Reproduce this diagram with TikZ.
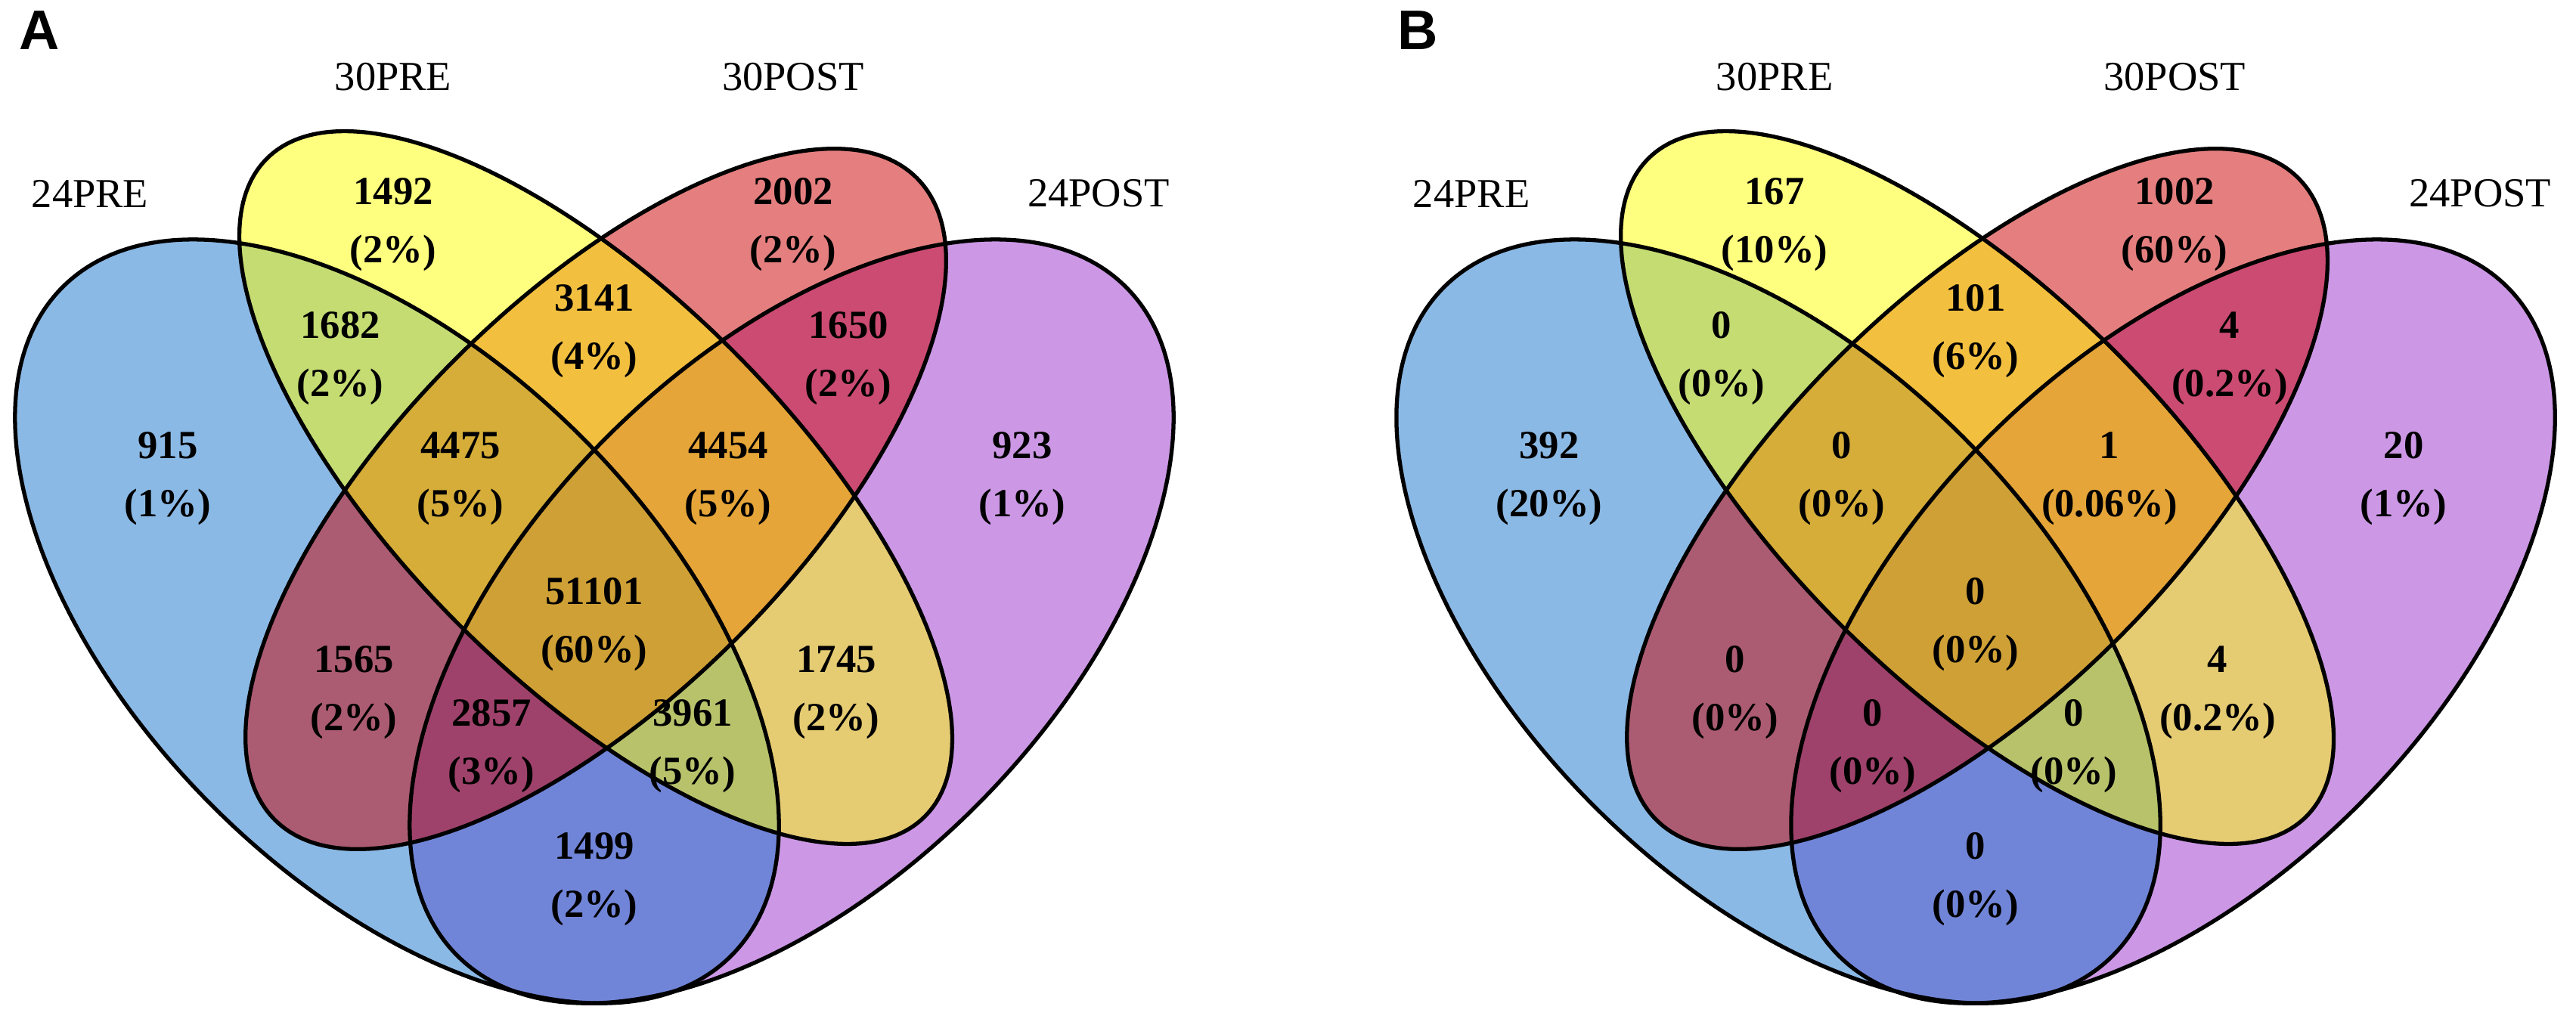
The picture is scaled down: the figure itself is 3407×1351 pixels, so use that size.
\documentclass[tikz,border=0pt]{standalone}
\usepackage{fontspec}
\setmainfont{Liberation Serif}
\newfontfamily\panelfont{Liberation Sans}
\definecolor{cBlue}{RGB}{24,116,205}
\definecolor{cYellow}{RGB}{255,255,0}
\definecolor{cRed}{RGB}{205,0,0}
\definecolor{cPurple}{RGB}{154,50,205}
\newcommand\regionlabel[4]{\node[cnt] (#1) at (#2) {#3\\#4};}
\newcommand\vennsets{%
  \fill[setfill=cPurple] [shift={(1047,822)}, rotate=45] (0,0) ellipse [x radius=6.25cm, y radius=3.45cm];
  \fill[setfill=cBlue]   [shift={(525,822)}, rotate=-45] (0,0) ellipse [x radius=6.25cm, y radius=3.45cm];
  \fill[setfill=cRed]    [shift={(788,660)}, rotate=45] (0,0) ellipse [x radius=6.00cm, y radius=2.62cm];
  \fill[setfill=cYellow] [shift={(788,645)}, rotate=-45] (0,0) ellipse [x radius=6.15cm, y radius=2.56cm];
  \draw[setline] [shift={(1047,822)}, rotate=45] (0,0) ellipse [x radius=6.25cm, y radius=3.45cm];
  \draw[setline] [shift={(525,822)}, rotate=-45] (0,0) ellipse [x radius=6.25cm, y radius=3.45cm];
  \draw[setline] [shift={(788,660)}, rotate=45] (0,0) ellipse [x radius=6.00cm, y radius=2.62cm];
  \draw[setline] [shift={(788,645)}, rotate=-45] (0,0) ellipse [x radius=6.15cm, y radius=2.56cm];
}
\begin{document}
\begin{tikzpicture}[x=0.01cm,y=-0.01cm,
  setfill/.style={fill=#1, fill opacity=0.5, draw=none},
  setline/.style={draw=black, line width=1.5pt},
  cnt/.style={align=center, font=\fontsize{15}{22}\selectfont\bfseries, inner sep=0pt},
  catlab/.style={font=\fontsize{15.5}{18}\selectfont, inner sep=0pt},
  panellab/.style={font=\panelfont\bfseries\fontsize{21}{24}\selectfont, inner sep=0pt}]
\fill[white] (0,0) rectangle (3407,1351);
\useasboundingbox (0,0) rectangle (3407,1351);

% ---------------- Panel A ----------------
\begin{scope}
\vennsets
\node[panellab] (pA) at (52,40) {A};
\node[catlab] (A24pre)  at (119,256) {24PRE};
\node[catlab] (A30pre)  at (520,102) {30PRE};
\node[catlab] (A30post) at (1049,102) {30POST};
\node[catlab] (A24post) at (1453,256) {24POST};
\regionlabel{Ar1}{520,297}{1492}{(2\%)}
\regionlabel{Ar2}{1049,297}{2002}{(2\%)}
\regionlabel{Ar3}{450,474}{1682}{(2\%)}
\regionlabel{Ar4}{786,438}{3141}{(4\%)}
\regionlabel{Ar5}{1122,474}{1650}{(2\%)}
\regionlabel{Ar6}{222,633}{915}{(1\%)}
\regionlabel{Ar7}{609,633}{4475}{(5\%)}
\regionlabel{Ar8}{963,633}{4454}{(5\%)}
\regionlabel{Ar9}{1352,633}{923}{(1\%)}
\regionlabel{Ar10}{786,826}{51101}{(60\%)}
\regionlabel{Ar11}{468,916}{1565}{(2\%)}
\regionlabel{Ar12}{1106,916}{1745}{(2\%)}
\regionlabel{Ar13}{650,987}{2857}{(3\%)}
\regionlabel{Ar14}{916,987}{3961}{(5\%)}
\regionlabel{Ar15}{786,1163}{1499}{(2\%)}
\end{scope}

% ---------------- Panel B ----------------
\begin{scope}[xshift=18.26cm]
\vennsets
\node[panellab] (pB) at (48,40) {B};
\node[catlab] (B24pre)  at (119,256) {24PRE};
\node[catlab] (B30pre)  at (520,102) {30PRE};
\node[catlab] (B30post) at (1049,102) {30POST};
\node[catlab] (B24post) at (1453,256) {24POST};
\regionlabel{Br1}{520,297}{167}{(10\%)}
\regionlabel{Br2}{1049,297}{1002}{(60\%)}
\regionlabel{Br3}{450,474}{0}{(0\%)}
\regionlabel{Br4}{786,438}{101}{(6\%)}
\regionlabel{Br5}{1122,474}{4}{(0.2\%)}
\regionlabel{Br6}{222,633}{392}{(20\%)}
\regionlabel{Br7}{609,633}{0}{(0\%)}
\regionlabel{Br8}{963,633}{1}{(0.06\%)}
\regionlabel{Br9}{1352,633}{20}{(1\%)}
\regionlabel{Br10}{786,826}{0}{(0\%)}
\regionlabel{Br11}{468,916}{0}{(0\%)}
\regionlabel{Br12}{1106,916}{4}{(0.2\%)}
\regionlabel{Br13}{650,987}{0}{(0\%)}
\regionlabel{Br14}{916,987}{0}{(0\%)}
\regionlabel{Br15}{786,1163}{0}{(0\%)}
\end{scope}
\end{tikzpicture}
\end{document}
